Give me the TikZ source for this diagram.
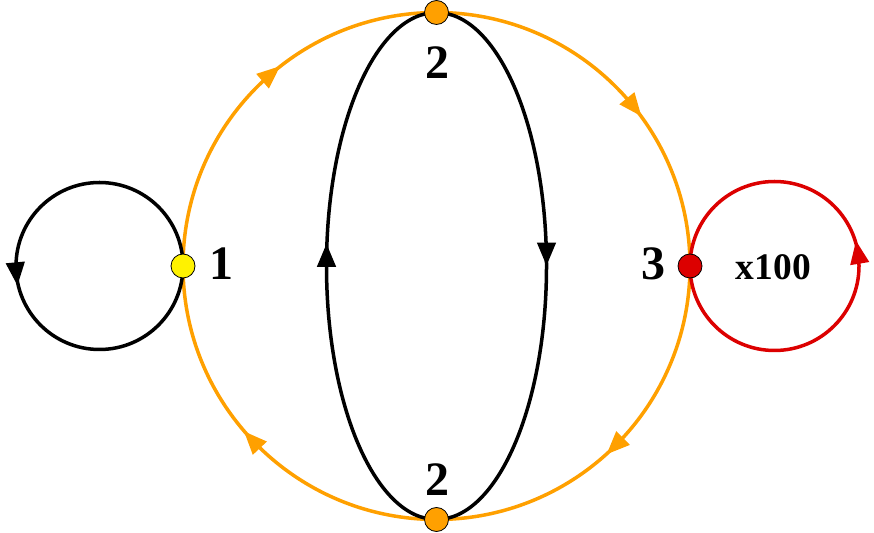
\documentclass[tikz,border=0pt]{standalone}
\usepackage{fontspec}
\setmainfont{Liberation Serif}
\usetikzlibrary{arrows.meta,decorations.markings,backgrounds}
\definecolor{ora}{RGB}{255,160,0}
\definecolor{redc}{RGB}{220,0,0}
\definecolor{yel}{RGB}{255,242,0}
\begin{document}
\begin{tikzpicture}[x=1pt,y=1pt,
 vertex/.style={circle,draw=black,line width=0.8pt,minimum size=24pt,inner sep=0pt},
 lab/.style={font=\bfseries\fontsize{48}{48}\selectfont,inner sep=0pt,anchor=base},
 linkline/.style={line width=3.5pt},
 mk/.style 2 args={postaction={decorate},decoration={markings,mark=at position #1 with {\fill ({#2pt+11.5pt},0pt) -- ({#2pt-11.5pt},9.7pt) -- ({#2pt-11.5pt},-9.7pt) -- cycle;}}}
]
\useasboundingbox (0,0) rectangle (874,532);
\node[vertex,fill=yel] (n1) at (183,266) {};
\node[vertex,fill=ora] (n2t) at (436.5,519.5) {};
\node[vertex,fill=ora] (n2b) at (436.5,12.5) {};
\node[vertex,fill=redc] (n3) at (690,266) {};
\node[lab] (l1) at (221,252) {1};
\node[lab] (l2t) at (437,453) {2};
\node[lab] (l2b) at (437,37) {2};
\node[lab] (l3) at (653.5,252) {3};
\node[lab,font=\bfseries\fontsize{37.5}{37.5}\selectfont] (lx) at (773.3,252) {x100};
\begin{pgfonlayer}{background}
\draw[linkline,color=ora,mk={0.548}{0}] (n1.center) arc[start angle=180,end angle=90,radius=253.5];
\draw[linkline,color=ora,mk={0.569}{0}] (n2t.center) arc[start angle=90,end angle=0,radius=253.5];
\draw[linkline,color=ora,mk={0.503}{0}] (n3.center) arc[start angle=0,end angle=-90,radius=253.5];
\draw[linkline,color=ora,mk={0.519}{0}] (n2b.center) arc[start angle=270,end angle=180,radius=253.5];
\draw[linkline,mk={0.515}{0}] (n1.center) arc[start angle=0,end angle=360,radius=83.5];
\draw[linkline,color=redc,mk={0.526}{0}] (n3.center) arc[start angle=180,end angle=540,radius=84.5];
\draw[linkline,mk={0.5}{-12}] (n2t.center) arc[start angle=90,end angle=-90,x radius=110,y radius=253.5];
\draw[linkline,mk={0.5}{10.6}] (n2b.center) arc[start angle=270,end angle=90,x radius=110,y radius=253.5];
\end{pgfonlayer}
\end{tikzpicture}
\end{document}
